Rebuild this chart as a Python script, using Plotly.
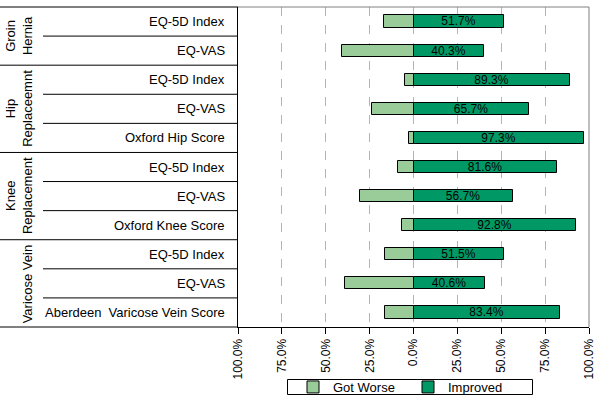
import plotly.graph_objects as go

# ---- data ----
groups = ["Groin<br>Hernia", "Hip<br>Replaceemnt", "Knee<br>Replacement", "Varicose Vein"]
group_sizes = [2, 3, 3, 3]
measures = ["EQ-5D Index", "EQ-VAS",
            "EQ-5D Index", "EQ-VAS", "Oxford Hip Score",
            "EQ-5D Index", "EQ-VAS", "Oxford Knee Score",
            "EQ-5D Index", "EQ-VAS", "Aberdeen  Varicose Vein Score"]
got_worse = [17.0, 40.9, 5.1, 23.9, 2.3, 9.1, 30.7, 6.3, 16.5, 39.2, 16.5]
improved = [51.7, 40.3, 89.3, 65.7, 97.3, 81.6, 56.7, 92.8, 51.5, 40.6, 83.4]
tick_vals = [-100, -75, -50, -25, 0, 25, 50, 75, 100]
tick_text = ["%.1f%%" % abs(v) for v in tick_vals]

n = len(measures)
rows = list(range(n))
FONT = "Liberation Sans, Arial, sans-serif"

W, H = 599, 398
ML, MR, MT, MB = 238, 10, 7, 71
pw = W - ML - MR
ph = H - MT - MB

def px2paper(px):
    return (px - ML) / pw

def py2paper(py):
    return (MT + ph - py) / ph

fig = go.Figure()
fig.add_trace(go.Bar(
    name="Got Worse", y=rows, x=[-v for v in got_worse], orientation="h",
    marker=dict(color="#99CC99", line=dict(color="black", width=1)),
    width=0.42, hoverinfo="skip"))
fig.add_trace(go.Bar(
    name="Improved", y=rows, x=improved, orientation="h",
    marker=dict(color="#009966", line=dict(color="black", width=1)),
    width=0.42, text=["%.1f%%" % v for v in improved],
    textposition="inside", insidetextanchor="middle", constraintext="none",
    textfont=dict(color="black", size=12, family=FONT), hoverinfo="skip"))

shapes = []
x_left = px2paper(0)
x_sub = px2paper(43)
start = 0
group_starts = []
for g in group_sizes:
    group_starts.append(start)
    start += g
for k in range(n + 1):
    yk = 1 - k / n
    x0 = x_left if (k in group_starts or k == n) else x_sub
    shapes.append(dict(type="line", xref="paper", yref="paper", x0=x0, x1=0,
                       y0=yk, y1=yk, line=dict(color="black", width=1)))
# grey top and right borders of the plot area
shapes.append(dict(type="line", xref="paper", yref="paper", x0=0, x1=1, y0=1, y1=1,
                   line=dict(color="#808080", width=1)))
shapes.append(dict(type="line", xref="paper", yref="paper", x0=1, x1=1, y0=0, y1=1,
                   line=dict(color="#808080", width=1)))
# legend frame
shapes.append(dict(type="rect", xref="paper", yref="paper",
                   x0=px2paper(287.5), x1=px2paper(532.5),
                   y0=py2paper(379.5), y1=py2paper(394.5),
                   line=dict(color="black", width=1), fillcolor="white", layer="above"))

annotations = []
for i, m in enumerate(measures):
    annotations.append(dict(xref="paper", yref="y", x=0, y=i, xanchor="right",
                            xshift=-11, yanchor="middle", text=m, showarrow=False,
                            font=dict(size=13, family=FONT, color="black")))
for gi, (g, s) in enumerate(zip(groups, group_sizes)):
    st = group_starts[gi]
    cx = 19 if "<br>" in g else 27
    annotations.append(dict(xref="paper", yref="y", x=px2paper(cx), y=st + (s - 1) / 2,
                            xanchor="center", yanchor="middle", text=g, textangle=-90,
                            showarrow=False,
                            font=dict(size=13, family=FONT, color="black")))

fig.update_layout(
    width=W, height=H,
    margin=dict(l=ML, r=MR, t=MT, b=MB, autoexpand=False),
    paper_bgcolor="white", plot_bgcolor="white",
    barmode="relative", bargap=0,
    font=dict(family=FONT, size=12, color="black"),
    showlegend=True,
    legend=dict(orientation="h", x=px2paper(333 - 40), xanchor="left",
                y=py2paper(387), yanchor="middle",
                borderwidth=0, bgcolor="rgba(0,0,0,0)",
                font=dict(size=13, family=FONT), itemwidth=30,
                entrywidth=70, tracegroupgap=0),
    shapes=shapes, annotations=annotations,
    xaxis=dict(range=[-100, 100], tickvals=tick_vals, ticktext=tick_text,
               tickangle=-90, ticks="outside", ticklen=6, tickcolor="black",
               showline=True, linecolor="black", linewidth=1,
               showgrid=True, gridcolor="#B4B4B4", griddash="dash", gridwidth=1,
               zeroline=False, tickfont=dict(size=12, family=FONT), fixedrange=True),
    yaxis=dict(range=[n - 0.5, -0.5], showticklabels=False, ticks="",
               showline=True, linecolor="black", linewidth=1,
               showgrid=False, zeroline=False, fixedrange=True),
)

fig.write_html("out.html", config={"displayModeBar": False},
               post_script="document.body.style.margin='0';document.body.style.overflow='hidden';")
